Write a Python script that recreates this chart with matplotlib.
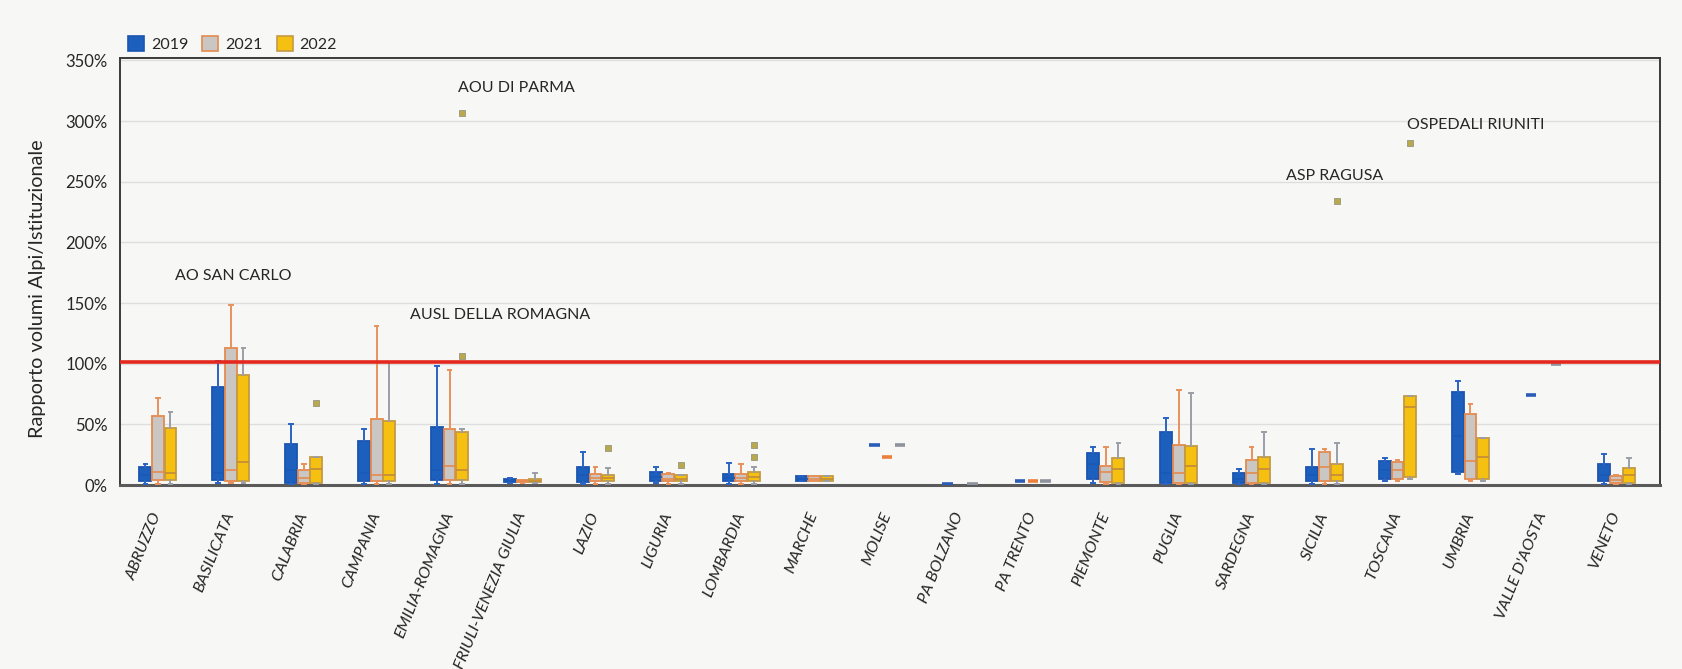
import matplotlib
matplotlib.use("Agg")
import matplotlib.pyplot as plt
from matplotlib.patches import Patch

plt.rcParams["font.family"] = ["Lato", "DejaVu Sans"]

regions = ["ABRUZZO", "BASILICATA", "CALABRIA", "CAMPANIA", "EMILIA-ROMAGNA",
           "FRIULI-VENEZIA GIULIA", "LAZIO", "LIGURIA", "LOMBARDIA", "MARCHE",
           "MOLISE", "PA BOLZANO", "PA TRENTO", "PIEMONTE", "PUGLIA", "SARDEGNA",
           "SICILIA", "TOSCANA", "UMBRIA", "VALLE D'AOSTA", "VENETO"]
years = ["2019", "2021", "2022"]

# five-number summaries (whisker low, Q1, median, Q3, whisker high), in %
stats_2019 = [
    (1, 3, 8, 15, 17), (2, 4, 10, 81, 102), (1, 2, 12, 34, 50), (1, 3, 10, 36, 46),
    (1, 4, 12, 48, 98), (2, 2.5, 3.5, 5, 5.5), (1, 2.5, 8, 15, 27), (2, 3, 7, 10.5, 15),
    (1, 3, 6, 9, 18), (3, 3, 5, 7.5, 7.5), (33, 33, 33, 33, 33), (1, 1, 1, 1, 1),
    (3, 3, 3, 3, 3), (2, 5, 17, 26, 31), (1, 2, 10, 44, 55), (1, 2, 5, 10, 13),
    (1, 3, 8, 15, 30), (3, 5, 12, 19.5, 22), (9, 11, 40, 77, 86), (74, 74, 74, 74, 74),
    (1, 3, 8, 17, 25.5),
]
stats_2021 = [
    (1, 4, 11, 57, 72), (2, 3, 12, 113, 148), (1, 2, 6, 12, 17), (1, 3, 8, 54, 131),
    (1, 4, 16, 46, 95), (2, 2.5, 3, 4, 4.5), (1, 3, 6, 9, 15), (1, 3, 5, 9, 10),
    (1, 3, 6, 9, 17), (3, 3, 5, 7.5, 7.5), (23, 23, 23, 23, 23), None,
    (3, 3, 3, 3, 3), (1, 2.5, 11, 16, 31), (1, 2, 10, 33, 78), (1, 2, 10, 21, 31),
    (1, 3, 15, 27, 30), (3, 5, 12, 19, 21), (3, 5, 20, 58.5, 67), None,
    (1, 2, 4, 7.7, 8),
]
stats_2022 = [
    (1, 4, 10, 47, 60), (2, 3, 19, 91, 113), (1, 2, 13, 23, 23), (1, 3, 8, 53, 101),
    (1, 4, 12, 44, 46), (2, 2.5, 3, 5, 10), (1, 3, 6, 8, 14), (1, 3, 5, 8, 8),
    (1, 3, 7, 10.7, 15), (3, 3, 5, 7.5, 7.5), (33, 33, 33, 33, 33), (1, 1, 1, 1, 1),
    (3, 3, 3, 3, 3), (1, 2, 13, 22, 35), (1, 2, 16, 32, 76), (1, 2, 13, 23, 44),
    (1, 3, 8, 17, 35), (5, 6.5, 64, 73, 73), (3, 5, 23, 39, 39), (100, 100, 100, 100, 100),
    (1, 2, 8, 13.7, 22),
]

# outlying facilities (region, year, value %)
outliers = [
    ("CALABRIA", "2022", 67.8), ("EMILIA-ROMAGNA", "2022", 106),
    ("EMILIA-ROMAGNA", "2022", 307), ("LAZIO", "2022", 30.7),
    ("LIGURIA", "2022", 16.5), ("LOMBARDIA", "2022", 23.3),
    ("LOMBARDIA", "2022", 33), ("SICILIA", "2022", 234), ("TOSCANA", "2022", 282),
]

facility_labels = ["AO SAN CARLO", "AOU DI PARMA", "AUSL DELLA ROMAGNA",
                   "ASP RAGUSA", "OSPEDALI RIUNITI"]
label_xy = [(0.23, 172), (4.12, 327), (3.46, 140), (15.47, 255), (17.13, 297)]

threshold = 101
y_ticks = [0, 50, 100, 150, 200, 250, 300, 350]

series = {
    "2019": dict(stats=stats_2019, face="#1c5fbd", edge="#1a55b0", whisk="#2a63c4",
                 med="#1a58b4", dash="#2a5cb8"),
    "2021": dict(stats=stats_2021, face="#c9c6c3", edge="#e58a4e", whisk="#e8915c",
                 med="#e58a4e", dash="#ea7f3e"),
    "2022": dict(stats=stats_2022, face="#f6c011", edge="#c49a45", whisk="#9b9ea6",
                 med="#c08a3a", dash="#8e929c"),
}
offsets = {"2019": -0.172, "2021": 0.0, "2022": 0.172}
box_w = 0.162

bg = "#f7f7f5"
text_c = "#262626"
fig = plt.figure(figsize=(16.83, 6.69), dpi=100, facecolor=bg)
ax = fig.add_axes([120 / 1683, 1 - 485 / 669, 1540 / 1683, 427 / 669], facecolor=bg)

for yr in years:
    s = series[yr]
    bstats, pos = [], []
    for i, v in enumerate(s["stats"]):
        if v is None:
            continue
        lo, q1, med, q3, hi = v
        if q1 == q3:
            ax.hlines(q1, i + offsets[yr] - 0.07, i + offsets[yr] + 0.07,
                      color=s["dash"], lw=2.6, zorder=4)
            continue
        bstats.append(dict(whislo=lo, q1=q1, med=med, q3=q3, whishi=hi, fliers=[]))
        pos.append(i + offsets[yr])
    ax.bxp(bstats, positions=pos, widths=box_w, patch_artist=True,
           showfliers=False, capwidths=0.05,
           boxprops=dict(facecolor=s["face"], edgecolor=s["edge"], linewidth=1.3),
           whiskerprops=dict(color=s["whisk"], linewidth=1.4),
           capprops=dict(color=s["whisk"], linewidth=1.4),
           medianprops=dict(color=s["med"], linewidth=1.2),
           zorder=3)

for reg, yr, val in outliers:
    ax.plot(regions.index(reg) + offsets[yr], val, marker="s", ms=4.5,
            mfc="#b9a94c", mec="#a09d86", mew=0.7, ls="none", zorder=5)

for txt, (x, y) in zip(facility_labels, label_xy):
    ax.text(x, y, txt, fontsize=11.5, color=text_c, ha="left", va="center")

ax.axhline(threshold, color="#e5281d", lw=2.6, zorder=4)

ax.set_ylim(0, 352)
ax.set_xlim(-0.52, 20.6)
ax.set_yticks(y_ticks)
ax.set_yticklabels([f"{t}%" for t in y_ticks], fontsize=12, color=text_c)
ax.yaxis.grid(True, color="#dedede", lw=1.0)
ax.set_axisbelow(True)
ax.tick_params(axis="y", length=0, pad=9)
ax.tick_params(axis="x", length=0, pad=20)
ax.set_xticks(range(len(regions)))
ax.set_xticklabels(regions, rotation=68, ha="right", va="center",
                   rotation_mode="anchor", fontsize=11.8, style="italic",
                   color=text_c)
ax.set_ylabel("Rapporto volumi Alpi/Istituzionale", fontsize=14.3, color=text_c,
              va="center")
ax.yaxis.set_label_coords(-0.0535, 0.459)

for side in ["left", "right", "top"]:
    ax.spines[side].set_color("#3a3a3a")
    ax.spines[side].set_linewidth(1.4)
ax.spines["bottom"].set_color("#5a5a5a")
ax.spines["bottom"].set_linewidth(2.2)

handles = [Patch(facecolor=series[y]["face"], edgecolor=series[y]["edge"], lw=1.2)
           for y in years]
fig.legend(handles, years, loc="upper left", bbox_to_anchor=(114 / 1683, 1 - 22 / 669),
           ncol=3, frameon=False, fontsize=11.5, handlelength=1.0, handleheight=1.0,
           handletextpad=0.4, columnspacing=0.9, labelcolor=text_c)

fig.savefig("out.png", dpi=100, facecolor=bg)
